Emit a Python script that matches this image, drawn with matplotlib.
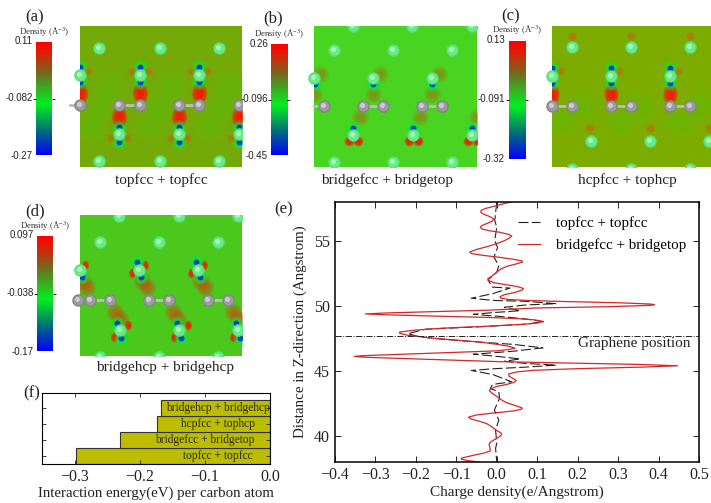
import numpy as np
import matplotlib
matplotlib.use('Agg')
import matplotlib.pyplot as plt
from matplotlib.colors import LinearSegmentedColormap
from matplotlib.markers import MarkerStyle
from matplotlib.patches import Rectangle
from matplotlib.path import Path
from matplotlib.transforms import Affine2D

plt.rcParams['font.family'] = ['Liberation Serif', 'DejaVu Serif']
plt.rcParams['mathtext.default'] = 'regular'

W, H = 711, 503

# Charge density profiles (panel e)
red_x = [.035, .015, -.01, -.028, -.039, -.039, -.03, -.015, -.008, -.01, -.02, -.036, -.041, -.036, -.02, .008,
         .03, .037, .03, .017, 0, -.02, -.05, -.067, -.062, -.035, .005, .04, .062, .064, .05, .025, .01, 0,
         -.012, -.022, -.02, -.008, .02, .05, .066, .062, .045, .02, .008, .01, .03, .08, .16, .3, .38, .39,
         .38, .28, .1, .03, -.02, -.14, -.27, -.325, -.28, -.15, -.02, .05, .095, .115, .1, .06, -.02, -.13,
         -.2, -.24, -.24, -.22, -.165, -.09, -.035, .005, .03, .045, .03, 0, -.09, -.2, -.33, -.352, -.32, -.2,
         -.1, .005, .17, .36, .447, .36, .2, .09, .05, .03, .03, .042, .048, .042, .025, -.002, -.016, -.018,
         -.012, 0, .01, .025, .05, .063, .06, .04, -.005, -.05, -.07, -.065, -.045, -.025, -.012, -.002, .01,
         .012, .008, -.004, -.015, -.019, -.017, -.016, -.03, -.06, -.087, -.088, -.07, -.045]
red_z = [58.0, 57.85, 57.65, 57.5, 57.34, 57.18, 57.03, 56.85, 56.7, 56.55, 56.4, 56.2, 56.06, 55.92, 55.8, 55.67,
         55.5, 55.38, 55.2, 55.0, 54.8, 54.6, 54.35, 54.15, 54.03, 53.9, 53.75, 53.6, 53.47, 53.38, 53.25, 53.05, 52.85, 52.6,
         52.3, 52.1, 51.97, 51.8, 51.65, 51.5, 51.35, 51.22, 51.05, 50.88, 50.72, 50.6, 50.5, 50.42, 50.35, 50.25, 50.15, 50.1,
         50.05, 49.95, 49.85, 49.75, 49.68, 49.58, 49.47, 49.39, 49.33, 49.22, 49.12, 49.03, 48.93, 48.8, 48.68, 48.58, 48.45, 48.3,
         48.15, 48.0, 47.9, 47.75, 47.55, 47.35, 47.2, 47.03, 46.9, 46.76, 46.65, 46.55, 46.45, 46.32, 46.18, 46.12, 46.05, 45.93,
         45.83, 45.72, 45.62, 45.5, 45.4, 45.3, 45.18, 45.05, 44.93, 44.78, 44.6, 44.4, 44.25, 44.12, 43.97, 43.8, 43.6, 43.47,
         43.3, 43.05, 42.8, 42.55, 42.3, 42.15, 42.05, 41.92, 41.78, 41.62, 41.45, 41.32, 41.15, 40.95, 40.7, 40.45, 40.25,
         40.12, 39.98, 39.75, 39.55, 39.35, 39.1, 38.85, 38.7, 38.5, 38.3, 38.22, 38.1, 38.0]
black_x = [0.0, -0.005, 0.0, -0.005, 0.002, -0.007, 0.005, 0.0, -0.022, -0.01, 0.033, -0.01, -0.063, -0.01,
           0.072, 0.147, 0.072, 0.019, 0.058, -0.01, -0.058, 0.007, 0.072, 0.115, 0.072, -0.05, -0.175,
           -0.22, -0.19, -0.133, -0.05, 0.04, 0.114, 0.04, -0.058, -0.01, 0.058, 0.019, 0.072, 0.147, 0.072,
           -0.01, -0.063, -0.01, 0.037, -0.01, -0.016, 0.005, 0.007, -0.006, 0.005, -0.003, 0.0, -0.003, 0.0]
black_z = [58.0, 56.57, 56.06, 55.04, 54.5, 53.76, 53.1, 52.6, 52.0, 51.45, 51.38, 50.95, 50.6, 50.43,
           50.36, 50.18, 50.08, 49.9, 49.64, 49.49, 49.36, 49.2, 49.0, 48.8, 48.6, 48.39, 48.22,
           47.87, 47.62, 47.44, 47.24, 47.05, 46.78, 46.52, 46.29, 46.16, 45.93, 45.75, 45.58, 45.45, 45.3,
           45.17, 45.04, 44.73, 44.17, 43.97, 43.66, 43.4, 42.9, 42.0, 41.23, 40.46, 39.44, 39.05, 38.0]
graphene_z = 47.72

# Interaction energies (panel f)
configs = ['topfcc + topfcc', 'bridgefcc + bridgetop', 'hcpfcc + tophcp', 'bridgehcp + bridgehcp']
energies = [-0.298, -0.23, -0.173, -0.168]
config_label_x = [-0.08, -0.1, -0.08, -0.08]

# Colour bar limits, top / middle / bottom
a_range = ['0.11', '-0.082', '-0.27']
b_range = ['0.26', '-0.096', '-0.45']
c_range = ['0.13', '-0.091', '-0.32']
d_range = ['0.097', '-0.038', '-0.17']

a_green = [([19, 80, 139], 22), ([19, 80, 139], 135), ([0, 60, 119], 49), ([39, 99, 159], 108)]
a_carbon = [0, 39, 60, 99, 119, 159]
a_carbon_y = 79
a_bonds = [(-10, 0), (39, 60), (99, 119)]
a_blue = [([0, 60, 119], 41), ([0, 60, 119], 56), ([39, 99, 159], 101), ([39, 99, 159], 116)]
a_red = [([0, 60, 119], 67), ([39, 99, 159], 91)]
a_orange = [([8, 68, 127], 45), ([-8, 52, 111], 45), ([47, 107, 167], 112), ([31, 91, 151], 112)]
a_bright = [([20, 80, 140], 80), ([10, 70, 130], 100), ([30, 90, 150], 60)]

b_green = [([20, 79, 138], 24), ([20, 79, 138], 136), ([39, 98, 158], 0), ([0, 59, 118], 52), ([39, 99, 158], 109)]
b_carbon = [10, 49, 69, 108, 128]
b_carbon_y = 80
b_bonds = [(0, 10), (49, 69), (108, 128)]
b_blue = [([1, 59, 118], 58), ([39, 99, 158], 102)]
b_red = [([44, 104, 163], 115), ([35, 95, 154], 115)]
b_orange = [([59, 118, 0], 68), ([46, 106, 163], 91), ([66, 125, 6], 48)]
b_bright = []

c_green = [([20, 79, 138], 21), ([0, 59, 118], 50), ([39, 98, 157], 115), ([20, 79, 138], 143)]
c_carbon = [0, 20, 59, 79, 118, 138]
c_carbon_y = 80
c_bonds = [(0, 20), (59, 79), (118, 138)]
c_blue = [([0, 59, 118], 42), ([0, 59, 118], 57)]
c_red = [([0, 59, 118], 68)]
c_orange = [([8, 67, 126], 45), ([38, 98, 157], 102), ([20, 79, 138], 10)]
c_bright = [([30, 89, 148], 80), ([10, 69, 128], 95)]

d_green = [([39, 99, 158], 1), ([20, 79, 138], 27), ([0, 59, 118], 55), ([40, 99, 158], 115), ([20, 79, 138], 142)]
d_carbon = [-2, 10, 30, 69, 89, 128, 148]
d_carbon_y = 85
d_bonds = [(10, 30), (69, 89), (128, 148)]
d_blue = [([57, 116], 47), ([2, 61, 120], 62), ([37, 97, 156], 108), ([41, 101, 160], 123)]
d_red = [([5, 65, 124], 50), ([52, 111], 58), ([48, 108], 110), ([34, 94, 153], 122)]
d_orange = [([7, 67, 125], 72), ([35, 93, 153], 97), ([40, 98, 158], 104), ([3, 62, 120], 66)]
d_bright = []

bar_cmap = LinearSegmentedColormap.from_list('density', [
    (0.0, '#0000ff'), (0.22, '#007078'), (0.45, '#00f020'), (0.6, '#40a820'),
    (0.72, '#706c20'), (0.9, '#dc2008'), (1.0, '#ff0000')])

fig = plt.figure(figsize=(W / 100, H / 100), dpi=100)


def px_axes(left, top, right, bottom):
    return fig.add_axes([left / W, 1 - bottom / H, (right - left) / W, (bottom - top) / H])


def put(x, y, s, **kw):
    kw.setdefault('ha', 'center')
    kw.setdefault('va', 'center')
    fig.text(x / W, 1 - y / H, s, **kw)


def rows(spots):
    xs, ys = [], []
    for row_x, row_y in spots:
        xs += row_x
        ys += [row_y] * len(row_x)
    return xs, ys


def glow(ax, spots, size, color, marker='o', steps=(1.0, 0.88, 0.76, 0.64, 0.52, 0.4), alpha=0.2, z=2):
    xs, ys = rows(spots)
    for f in steps:
        ax.scatter(xs, ys, s=(size * f * 0.72) ** 2, color=color, alpha=alpha, linewidths=0,
                   marker=marker, zorder=z)


def atoms(ax, xs, ys, dark, mid, light, clip):
    xs = np.array(xs)
    ys = np.array(ys)
    for dx, size, col in [(0, 12.5, dark), (-0.3, 10, mid), (-1.0, 5, light)]:
        s = ax.scatter(xs + dx, ys + dx, s=(size * 0.72) ** 2, color=col, linewidths=0, zorder=6, clip_on=True)
        s.set_clip_path(clip)


tall = MarkerStyle(Path.unit_circle().transformed(Affine2D().scale(0.7, 1.0)))


def draw_map(box, bg, green, carbon, carbon_y, bonds, blue, red, orange, bright, red_size, red_marker, orange_size, orange_col):
    left, top, right, bottom = box
    ax = px_axes(left, top, right, bottom)
    w, h = right - left, bottom - top
    ax.set_xlim(0, w)
    ax.set_ylim(h, 0)
    ax.set_facecolor(bg)
    ax.set_xticks([])
    ax.set_yticks([])
    for sp in ax.spines.values():
        sp.set_visible(False)
    clip = Rectangle((-12, 0), w + 12, h, transform=ax.transData)
    if bright:
        glow(ax, bright, 34, '#50d010', alpha=0.06, z=1)
    glow(ax, orange, orange_size, orange_col, alpha=0.13)
    glow(ax, red, red_size, '#ff1000', marker=red_marker, alpha=0.3)
    glow(ax, blue, 15, '#00f040', alpha=0.2, z=3)
    glow(ax, blue, 6, '#0030e0', steps=(1.0, 0.8), alpha=0.7, z=4)
    for x0, x1 in bonds:
        ln = ax.plot([x0, x1], [carbon_y, carbon_y], color='#bdbdbd', lw=2, zorder=5, clip_on=True)[0]
        ln.set_clip_path(clip)
    gx, gy = rows(green)
    atoms(ax, gx, gy, '#58dc78', '#68ec88', '#a8f8b8', clip)
    atoms(ax, carbon, [carbon_y] * len(carbon), '#838388', '#9c9ca0', '#cccccc', clip)


def draw_bar(box, labels, right_edge, ys):
    ax = px_axes(*box)
    ax.imshow(np.linspace(1, 0, 256)[:, None], cmap=bar_cmap, aspect='auto', extent=[0, 1, 0, 1])
    ax.set_xticks([])
    ax.set_yticks([0.5])
    ax.set_yticklabels([])
    ax.tick_params(axis='y', left=True, right=True, length=2, width=0.6, direction='out', pad=0)
    for sp in ax.spines.values():
        sp.set_visible(False)
    for s, y in zip(labels, ys):
        put(right_edge, y, s, ha='right', family='Liberation Sans', fontsize=7, color='#222222')


# Density maps
draw_map((80, 26, 242, 167), '#74aa08', a_green, a_carbon, a_carbon_y, a_bonds, a_blue, a_red, a_orange, a_bright, 22, tall, 9, '#d85810')
draw_map((314, 26, 477, 167), '#48d420', b_green, b_carbon, b_carbon_y, b_bonds, b_blue, b_red, b_orange, b_bright, 10, 'o', 17, '#a87010')
draw_map((552, 26, 711, 167), '#7cac00', c_green, c_carbon, c_carbon_y, c_bonds, c_blue, c_red, c_orange, c_bright, 21, tall, 10, '#d06010')
draw_map((80, 215, 242, 356), '#4cc81c', d_green, d_carbon, d_carbon_y, d_bonds, d_blue, d_red, d_orange, d_bright, 10, tall, 18, '#d84010')

draw_bar((36, 42, 52, 155), a_range, 33, [41, 98, 156])
draw_bar((271, 44, 287, 155), b_range, 268, [44, 99, 156])
draw_bar((509, 41, 525, 159), c_range, 505, [40, 99, 159])
draw_bar((37, 236, 53, 351), d_range, 34, [235, 293, 352])

for x, y, s in [(35, 17, '(a)'), (273, 18, '(b)'), (511, 16, '(c)'), (35, 211, '(d)'), (284, 209, '(e)'), (32, 393, '(f)')]:
    put(x, y, s, fontsize=12, color='#222222')
for x, y in [(44, 31), (279, 34), (517, 30), (45, 225)]:
    put(x, y, 'Density (Å$^{-3}$)', fontsize=6.3, color='#333333')
for x, y, s in [(161, 180, 'topfcc + topfcc'), (387, 180, 'bridgefcc + bridgetop'),
                (627, 180, 'hcpfcc + tophcp'), (165, 368, 'bridgehcp + bridgehcp')]:
    put(x, y, s, fontsize=11, color='#222222')

# Charge density profile
ax = px_axes(335, 202, 699, 462)
ax.plot(black_x, black_z, color='#222222', lw=0.8, dashes=(9, 3), label='topfcc + topfcc')
ax.plot(red_x, red_z, color='#d62728', lw=0.9, solid_joinstyle='round', label='bridgefcc + bridgetop')
ax.axhline(graphene_z, color='#222222', lw=0.7, ls='-.')
ax.text(0.341, 47.1, 'Graphene position', ha='center', va='center', fontsize=11, color='#222222')
ax.set_xlim(-0.4, 0.5)
ax.set_ylim(38, 58)
ax.set_xticks(np.arange(-0.4, 0.51, 0.1))
ax.set_yticks([40, 45, 50, 55])
ax.tick_params(direction='in', top=True, right=True, length=4, width=0.7, labelsize=11.5, colors='#222222')
put(517, 492, 'Charge density(e/Angstrom)', fontsize=11, color='#222222')
put(300, 332, 'Distance in Z-direction (Angstrom)', fontsize=10.8, color='#222222', rotation=90)
ax.legend(loc='upper right', bbox_to_anchor=(0.997, 0.99), frameon=False, fontsize=10.8, labelspacing=0.55,
          handlelength=1.45, handletextpad=1.05, borderaxespad=0.4)
for sp in ax.spines.values():
    sp.set_linewidth(1.1)

# Interaction energies
ax = px_axes(42, 393, 270, 464)
pos = np.arange(len(configs))
ax.barh(pos, energies, height=1.0, align='edge', color='#bdbd00', edgecolor='#333333', linewidth=0.8)
for p, name, lx in zip(pos, configs, config_label_x):
    ax.text(lx, p + 0.5, name, ha='center', va='center', fontsize=8.3, color='#222222', clip_on=True)
ax.set_xlim(-0.35, 0)
ax.set_ylim(0, 4.46)
ax.set_xticks([-0.3, -0.2, -0.1, 0.0])
ax.set_yticks(pos + 0.5)
ax.set_yticklabels([])
ax.tick_params(direction='in', top=True, right=True, length=3, width=0.6, labelsize=11.5, colors='#222222')
ax.set_xlabel('Interaction energy(eV) per carbon atom', fontsize=10.7, color='#222222', labelpad=1)

fig.savefig('out.png', dpi=100)
